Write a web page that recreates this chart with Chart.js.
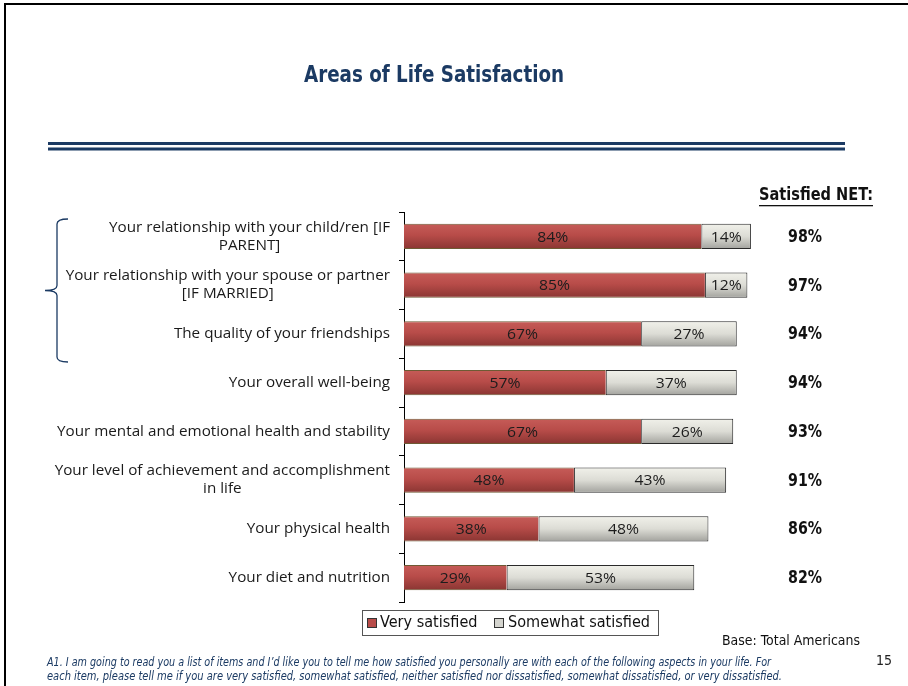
<!DOCTYPE html>
<html>
<head>
<meta charset="utf-8">
<title>Areas of Life Satisfaction</title>
<script src="https://cdn.jsdelivr.net/npm/chart.js@4/dist/chart.umd.min.js"></script>
<style>
  html, body { margin: 0; padding: 0; background: #fff; }
  canvas { display: block; }
</style>
</head>
<body>
<canvas id="chart" width="908" height="686"></canvas>
<script>
// ---- data ----
const categories = [
  ['Your relationship with your child/ren [IF', 'PARENT]'],
  ['Your relationship with your spouse or partner', '[IF MARRIED]'],
  'The quality of your friendships',
  'Your overall well-being',
  'Your mental and emotional health and stability',
  ['Your level of achievement and accomplishment', 'in life'],
  'Your physical health',
  'Your diet and nutrition'
];
const seriesNames = ['Very satisfied', 'Somewhat satisfied'];
const verySatisfied = [84, 85, 67, 57, 67, 48, 38, 29];
const somewhatSatisfied = [14, 12, 27, 37, 26, 43, 48, 53];
const satisfiedNet = [98, 97, 94, 94, 93, 91, 86, 82];

const titleText = 'Areas of Life Satisfaction';
const netHeader = 'Satisfied NET:';
const baseNote = 'Base: Total Americans';
const pageNumber = '15';
const questionLines = [
  'A1. I am going to read you a list of items and I\u2019d like you to tell me how satisfied you personally are with each of the following aspects in your life. For',
  'each item, please tell me if you are very satisfied, somewhat satisfied, neither satisfied nor dissatisfied, somewhat dissatisfied, or very dissatisfied.'
];

// ---- styling ----
const NARROW = '"Liberation Sans Narrow", "DejaVu Sans Condensed", "Liberation Sans", sans-serif';
const BODY = '"Open Sans", "Liberation Sans", sans-serif';
const NAVY = '#1b3a63';
const BAR_SHARE = 0.52;

const redStops = [[0, '#c65c58'], [0.45, '#b84c49'], [1, '#8a3532']];
const greyStops = [[0, '#f1f1ea'], [0.5, '#dcdcd5'], [1, '#a2a29d']];

// Vertical gradient spanning one bar, placed from the category scale
function barFill(stops, fallback) {
  return (c) => {
    const chart = c.chart;
    const y = chart.scales && chart.scales.y;
    if (!chart.chartArea || !y || c.dataIndex === undefined) return fallback;
    const mid = y.getPixelForValue(c.dataIndex);
    const half = (chart.chartArea.height / categories.length) * BAR_SHARE / 2;
    const g = chart.ctx.createLinearGradient(0, mid - half, 0, mid + half);
    stops.forEach(([o, col]) => g.addColorStop(o, col));
    return g;
  };
}

// Text drawn with optional horizontal squeeze so a run fits a given width
function drawText(ctx, text, x, y, font, color, align, scaleX) {
  ctx.save();
  ctx.font = font;
  ctx.fillStyle = color;
  ctx.textBaseline = 'middle';
  ctx.textAlign = align || 'left';
  ctx.translate(x, y);
  ctx.scale(scaleX || 1, 1);
  ctx.fillText(text, 0, 0);
  ctx.restore();
}
function squeezeFor(ctx, sample, font, width) {
  ctx.save();
  ctx.font = font;
  const w = ctx.measureText(sample).width;
  ctx.restore();
  return w > 0 ? width / w : 1;
}

const slideDecor = {
  id: 'slideDecor',
  beforeDraw(chart) {
    const ctx = chart.ctx;
    ctx.save();
    ctx.fillStyle = '#fff';
    ctx.fillRect(0, 0, chart.width, chart.height);
    // slide frame (top and left edges)
    ctx.fillStyle = '#000';
    ctx.fillRect(4, 3, chart.width - 4, 2);
    ctx.fillRect(4, 3, 2, chart.height - 3);
    ctx.restore();
  },
  afterDatasetsDraw(chart) {
    const ctx = chart.ctx;
    const font = '15px ' + BODY;
    const sx = squeezeFor(ctx, '84%', font, 31);
    chart.data.datasets.forEach((ds, di) => {
      const meta = chart.getDatasetMeta(di);
      meta.data.forEach((el, i) => {
        const p = el.getProps(['x', 'y', 'base'], true);
        drawText(ctx, ds.data[i] + '%', (p.x + p.base) / 2, p.y + 1, font, '#1c1c1c', 'center', sx);
      });
    });
  },
  afterDraw(chart) {
    const ctx = chart.ctx;
    const area = chart.chartArea;
    const yScale = chart.scales.y;

    // title and double rule
    const tFont = 'bold 23px ' + NARROW;
    drawText(ctx, titleText, 434, 76, tFont, NAVY, 'center', squeezeFor(ctx, titleText, tFont, 260));
    ctx.save();
    ctx.fillStyle = NAVY;
    ctx.fillRect(48, 142, 797, 3);
    ctx.fillRect(48, 147.5, 797, 3);
    ctx.restore();

    // category labels, right-aligned block, lines centred within it
    const cFont = '15px ' + BODY;
    const cSx = squeezeFor(ctx, 'Your mental and emotional health and stability', cFont, 333);
    ctx.save();
    ctx.font = cFont;
    const lh = 18;
    chart.data.labels.forEach((lab, i) => {
      const lines = Array.isArray(lab) ? lab : [lab];
      const blockW = Math.max(...lines.map(l => ctx.measureText(l).width)) * cSx;
      const cx = area.left - 14 - blockW / 2;
      const yc = yScale.getPixelForValue(i);
      lines.forEach((l, j) => {
        drawText(ctx, l, cx, yc + (j - (lines.length - 1) / 2) * lh, cFont, '#1a1a1a', 'center', cSx);
      });
    });
    ctx.restore();

    // bracket grouping the relationship items
    ctx.save();
    ctx.strokeStyle = NAVY;
    ctx.lineWidth = 1.3;
    const bt = 219, bb = 362, bm = (bt + bb) / 2, bx = 57;
    ctx.beginPath();
    ctx.moveTo(bx + 11, bt);
    ctx.quadraticCurveTo(bx, bt, bx, bt + 5);
    ctx.lineTo(bx, bm - 5);
    ctx.quadraticCurveTo(bx, bm, bx - 12, bm);
    ctx.quadraticCurveTo(bx, bm, bx, bm + 5);
    ctx.lineTo(bx, bb - 5);
    ctx.quadraticCurveTo(bx, bb, bx + 11, bb);
    ctx.stroke();
    ctx.restore();

    // NET column
    const hFont = 'bold 17px ' + NARROW;
    const hSx = squeezeFor(ctx, netHeader, hFont, 114);
    drawText(ctx, netHeader, 816, 196, hFont, '#111', 'center', hSx);
    ctx.save();
    ctx.fillStyle = '#111';
    ctx.fillRect(759, 205, 114, 1.3);
    ctx.restore();
    const nFont = 'bold 17px ' + NARROW;
    const nSx = squeezeFor(ctx, '98%', nFont, 34);
    satisfiedNet.forEach((v, i) => {
      drawText(ctx, v + '%', 805, yScale.getPixelForValue(i) + 1, nFont, '#111', 'center', nSx);
    });

    // legend box
    const lFont = '16px ' + NARROW;
    const lSx = squeezeFor(ctx, seriesNames[1], lFont, 142);
    ctx.save();
    ctx.strokeStyle = '#555';
    ctx.lineWidth = 1;
    ctx.strokeRect(362.5, 610.5, 296, 25);
    const swatches = [[367, '#b84c49', 380], [494, '#d4d4ce', 508]];
    swatches.forEach(([sx0, col, tx], k) => {
      ctx.fillStyle = col;
      ctx.fillRect(sx0, 618, 10, 10);
      ctx.strokeStyle = '#333';
      ctx.strokeRect(sx0 + 0.5, 618.5, 9, 9);
      drawText(ctx, chart.data.datasets[k].label, tx, 623, lFont, '#111', 'left', lSx);
    });
    ctx.restore();

    // base note, question wording, page number
    const bFont = '14px ' + NARROW;
    drawText(ctx, baseNote, 860, 641, bFont, '#111', 'right', squeezeFor(ctx, baseNote, bFont, 138));
    const qFont = 'italic 12px ' + NARROW;
    drawText(ctx, questionLines[0], 47, 663, qFont, NAVY, 'left', squeezeFor(ctx, questionLines[0], qFont, 724));
    drawText(ctx, questionLines[1], 47, 677, qFont, NAVY, 'left', squeezeFor(ctx, questionLines[1], qFont, 735));
    drawText(ctx, pageNumber, 884, 661, '14px ' + NARROW, '#222', 'center');
  }
};

new Chart(document.getElementById('chart'), {
  type: 'bar',
  data: {
    labels: categories,
    datasets: [
      {
        label: seriesNames[0],
        data: verySatisfied,
        backgroundColor: barFill(redStops, '#b84c49'),
        borderColor: '#6e5a34',
        borderWidth: { top: 1, bottom: 1, left: 0, right: 0 },
        borderSkipped: false
      },
      {
        label: seriesNames[1],
        data: somewhatSatisfied,
        backgroundColor: barFill(greyStops, '#d4d4ce'),
        borderColor: '#2a2a2a',
        borderWidth: 1,
        borderSkipped: false
      }
    ]
  },
  options: {
    indexAxis: 'y',
    responsive: false,
    animation: false,
    layout: { padding: { left: 399, right: 150, top: 212, bottom: 84 } },
    datasets: { bar: { categoryPercentage: 1, barPercentage: BAR_SHARE } },
    scales: {
      x: { stacked: true, min: 0, max: 100, display: false },
      y: {
        stacked: true,
        grid: { offset: true, drawOnChartArea: false, drawTicks: true, tickLength: 5, color: '#000', lineWidth: 1 },
        border: { display: true, color: '#000', width: 1 },
        ticks: { display: false }
      }
    },
    plugins: {
      legend: { display: false },
      tooltip: { enabled: false },
      title: { display: false }
    }
  },
  plugins: [slideDecor]
});
</script>
</body>
</html>
